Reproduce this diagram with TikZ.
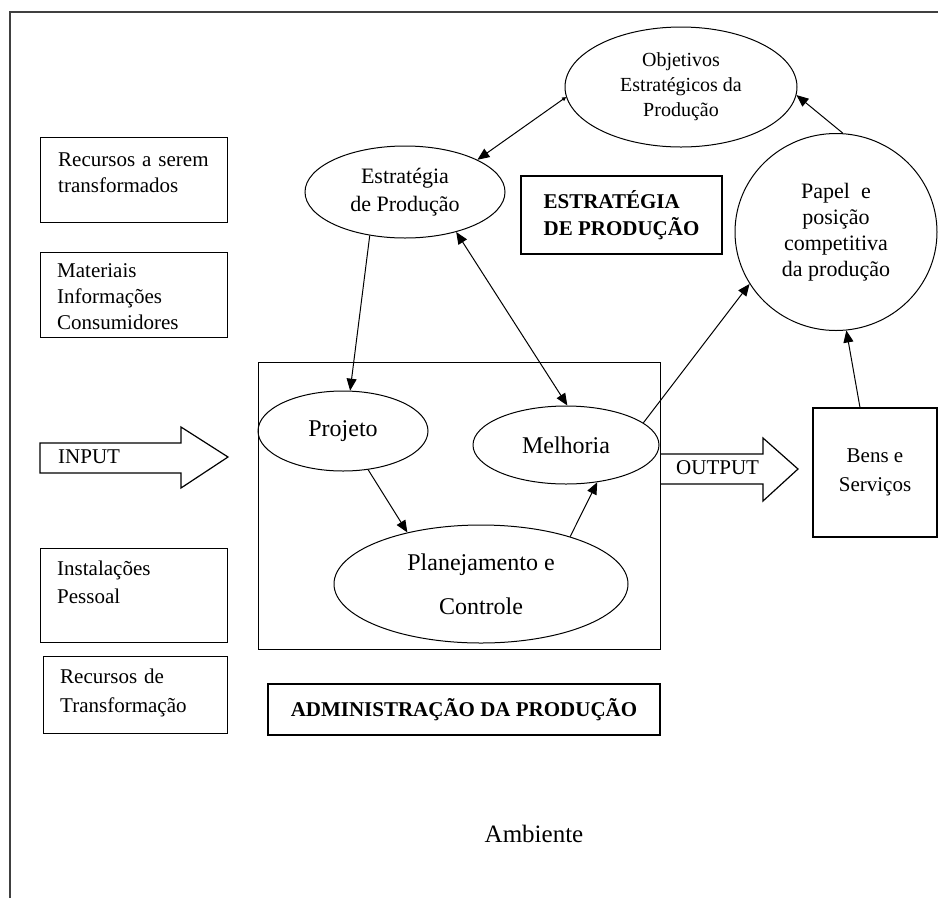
\documentclass[tikz,border=0pt]{standalone}
\usepackage{fontspec}
\setmainfont{Liberation Serif}
\usetikzlibrary{shapes.geometric,arrows.meta}

\begin{document}
\begin{tikzpicture}[x=1pt,y=-1pt,
  txt/.style={font=\fontsize{21}{26}\selectfont},
  bigtxt/.style={font=\fontsize{24}{28}\selectfont},
  resbox/.style={draw,line width=1.2pt,anchor=north west,inner sep=0},
  restext/.style={txt,anchor=base west,align=left,inner sep=0,text width=165},
  oval/.style={draw,ellipse,line width=1pt,inner sep=0,align=center},
  flow/.style={line width=1pt,-{Triangle[length=12pt,width=10pt]}},
  both/.style={line width=1pt,{Triangle[length=12pt,width=10pt]}-{Triangle[length=12pt,width=10pt]}},
  fat/.style={line width=1.2pt,line join=miter}]
\useasboundingbox (0,0) rectangle (938,898);

\coordinate (frameBL) at (10,898);
\coordinate (frameTL) at (10,12);
\coordinate (frameTR) at (938,12);
\draw[line width=1.5pt,black!75] (frameBL)--(frameTL)--(frameTR);

% resources on the left
\node[resbox,minimum width=187,minimum height=85] (resA) at (40,137) {};
\node[restext] (resAtxt) at (58,166) {Recursos a serem\\transformados};
\node[resbox,minimum width=187,minimum height=85] (resB) at (40,252) {};
\node[restext] (resBtxt) at (57,277) {Materiais\\Informações\\Consumidores};
\node[resbox,minimum width=187,minimum height=94] (resC) at (40,548) {};
\node[restext] (resCtxt) at (57,575) {Instalações\\[2pt]Pessoal};
\node[resbox,minimum width=184,minimum height=77] (resD) at (43,656) {};
\node[restext] (resDtxt) at (60,683) {Recursos de\\[3pt]Transformação};

% input / output arrows
\coordinate (inTip) at (228,457);
\coordinate (outTip) at (798,469);
\draw[fat] (40,443)--(181,443)--(181,427)--(inTip)--(181,488)--(181,473)--(40,473)--cycle;
\node[txt,anchor=base west,inner sep=0] (intxt) at (58,463) {INPUT};
\draw[fat] (660,454)--(763,454)--(763,438)--(outTip)--(763,501)--(763,484)--(660,484);
\node[txt,anchor=base west,inner sep=0] (outtxt) at (676,474) {OUTPUT};

% production management
\node[resbox,minimum width=402,minimum height=287] (adm) at (258,362) {};
\node[draw,line width=1.2pt,minimum width=392,minimum height=51,txt,font=\bfseries\fontsize{21}{26}\selectfont] (admlabel) at (464,709.5) {ADMINISTRAÇÃO DA PRODUÇÃO};
\node[oval,bigtxt,minimum width=170,minimum height=80] (proj) at (343,431) {Projeto};
\node[oval,bigtxt,minimum width=186,minimum height=78] (melh) at (566,445) {Melhoria};
\node[oval,bigtxt,minimum width=294,minimum height=118] (plan) at (481,584) {Planejamento e\\[16pt]Controle};

% strategy
\node[oval,font=\fontsize{20}{25}\selectfont,minimum width=232,minimum height=120] (objt) at (681,87) {Objetivos\\Estratégicos da\\Produção};
\node[oval,font=\fontsize{22}{28}\selectfont,minimum width=200,minimum height=92] (estr) at (405,192) {Estratégia\\de Produção};
\node[draw,line width=1.2pt,minimum width=201,minimum height=78,align=left,font=\bfseries\fontsize{21}{27}\selectfont] (estrlabel) at (621.5,215) {ESTRATÉGIA\\DE PRODUÇÃO};
\node[oval,font=\fontsize{22}{26}\selectfont,minimum width=202,minimum height=197] (papel) at (836,232) {Papel~~e\\posição\\competitiva\\da produção};
\node[draw,line width=1.2pt,minimum width=124,minimum height=129,align=center,font=\fontsize{21}{29}\selectfont] (bens) at (875,472.5) {Bens e\\Serviços};

\node[font=\fontsize{25}{30}\selectfont,anchor=base] (amb) at (534,842) {Ambiente};

\draw[line width=1pt,{Triangle[length=4pt,width=4pt]}-{Triangle[length=12pt,width=10pt]}] (objt.185)--(estr.24);
\draw[flow] (papel.86)--(objt.356);
\draw[flow] (estr.231)--(proj.80);
\draw[both] (estr.322)--(melh.88);
\draw[flow] (melh.16)--(papel.211);
\draw[flow] (proj.303)--(plan.145);
\draw[flow] (plan.28)--(melh.310);
\draw[flow] (bens.103)--(papel.276);

\end{tikzpicture}
\end{document}
